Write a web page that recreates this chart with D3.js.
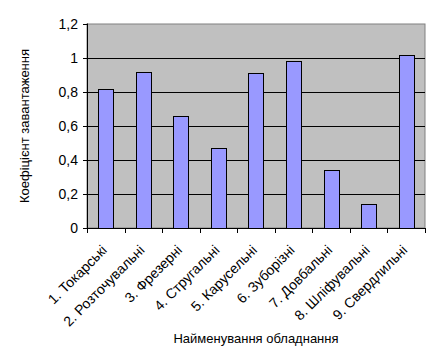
<!DOCTYPE html>
<html>
<head>
<meta charset="utf-8">
<script src="https://cdn.jsdelivr.net/npm/d3@7"></script>
<style>
body { margin: 0; background: #fff; }
text { font-family: "Liberation Sans", Arial, sans-serif; font-size: 13px; fill: #000; }
</style>
</head>
<body>
<div id="chart"></div>
<script>
var categories = ["1. Токарські", "2. Розточувальні", "3. Фрезерні", "4. Стругальні",
  "5. Карусельні", "6. Зуборізні", "7. Довбальні", "8. Шліфувальні", "9. Свердлильні"];
var values = [0.82, 0.92, 0.66, 0.47, 0.91, 0.98, 0.34, 0.14, 1.02];
var yTicks = [0, 0.2, 0.4, 0.6, 0.8, 1, 1.2];

var margin = {top: 24, right: 14, bottom: 135, left: 87},
    width = 439 - margin.left - margin.right,
    height = 363 - margin.top - margin.bottom;

var svg = d3.select("#chart").append("svg")
    .attr("width", 439)
    .attr("height", 363)
  .append("g")
    .attr("transform", "translate(" + margin.left + "," + margin.top + ")");

var x = d3.scaleBand().domain(categories).range([0, width]).paddingInner(0.6).paddingOuter(0.3);
var xb = d3.scaleBand().domain(categories).range([0, width]);
var y = d3.scaleLinear().domain([0, 1.2]).range([height, 0]);

svg.append("rect")
    .attr("width", width).attr("height", height)
    .attr("fill", "#c0c0c0")
    .attr("stroke", "#808080");

svg.selectAll(".grid").data(yTicks.slice(1, -1))
  .enter().append("line")
    .attr("x1", 0).attr("x2", width)
    .attr("y1", function(d) { return Math.round(y(d)) + 0.5; })
    .attr("y2", function(d) { return Math.round(y(d)) + 0.5; })
    .attr("stroke", "#000");

svg.selectAll(".bar").data(values)
  .enter().append("rect")
    .attr("x", function(d, i) { return Math.round(x(categories[i])) + 0.5; })
    .attr("y", function(d) { return Math.round(y(d)) + 0.5; })
    .attr("width", Math.round(x.bandwidth()))
    .attr("height", function(d) { return Math.round(height - y(d)); })
    .attr("fill", "#9999ff")
    .attr("stroke", "#000");

var yAxis = d3.axisLeft(y).tickValues(yTicks).tickSize(4).tickPadding(5)
    .tickFormat(function(d) { return d3.format("")(d).replace(".", ","); });
var gy = svg.append("g").call(yAxis);
gy.select(".domain").attr("d", "M0.5,-0.5V" + height);
gy.selectAll("text").style("font-size", "14px").attr("font-family", null);

// x axis: ticks at category boundaries
var gx = svg.append("g").attr("transform", "translate(0," + height + ")");
gx.append("line").attr("x1", 0).attr("x2", width).attr("y1", 0.5).attr("y2", 0.5).attr("stroke", "#000");
gx.selectAll(".tk").data(categories.concat([null]))
  .enter().append("line")
    .attr("x1", function(d, i) { return Math.round(i * xb.bandwidth()) + 0.5; })
    .attr("x2", function(d, i) { return Math.round(i * xb.bandwidth()) + 0.5; })
    .attr("y1", 0).attr("y2", 5)
    .attr("stroke", "#000");
gx.selectAll(".lbl").data(categories)
  .enter().append("text")
    .attr("text-anchor", "end")
    .style("font-size", "14px")
    .attr("transform", function(d) {
      return "translate(" + (xb(d) + xb.bandwidth() / 2 + 2) + ",23) rotate(-45)";
    })
    .text(function(d) { return d; });

svg.append("text")
    .attr("text-anchor", "middle")
    .attr("transform", "translate(-58," + (height / 2) + ") rotate(-90)")
    .text("Коефіцієнт завантаження");

svg.append("text")
    .attr("text-anchor", "middle")
    .attr("x", width / 2)
    .attr("y", height + 115)
    .text("Найменування обладнання");
</script>
</body>
</html>
